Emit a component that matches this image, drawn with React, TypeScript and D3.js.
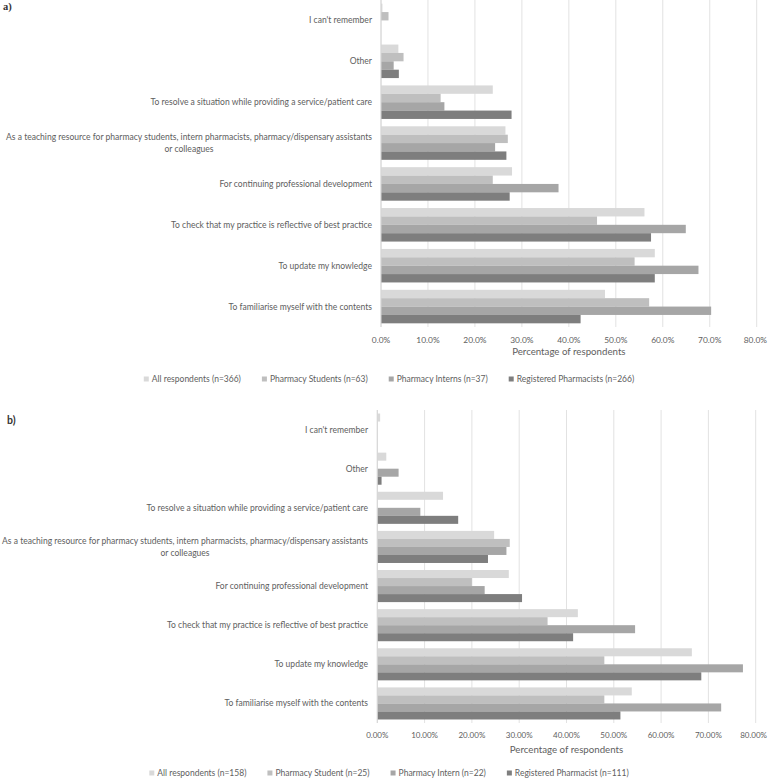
import React, { useEffect, useRef } from "react";
import * as d3 from "d3";

const categories = [
  "I can't remember",
  "Other",
  "To resolve a situation while providing a service/patient care",
  "As a teaching resource for pharmacy students, intern pharmacists, pharmacy/dispensary assistants|or colleagues",
  "For continuing professional development",
  "To check that my practice is reflective of best practice",
  "To update my knowledge",
  "To familiarise myself with the contents",
];

const xTicks = [0, 10, 20, 30, 40, 50, 60, 70, 80];

// Panel a)
const seriesNamesA = [
  "All respondents (n=366)",
  "Pharmacy Students (n=63)",
  "Pharmacy Interns (n=37)",
  "Registered Pharmacists (n=266)",
];
const allA = [0.3, 3.7, 23.8, 26.5, 27.9, 56.1, 58.3, 47.7];
const studentsA = [1.6, 4.8, 12.7, 27.0, 23.8, 46.0, 54.0, 57.1];
const internsA = [0, 2.7, 13.5, 24.3, 37.8, 64.9, 67.6, 70.3];
const registeredA = [0, 3.8, 27.8, 26.7, 27.4, 57.5, 58.3, 42.5];

// Panel b)
const seriesNamesB = [
  "All respondents (n=158)",
  "Pharmacy Student (n=25)",
  "Pharmacy Intern (n=22)",
  "Registered Pharmacist (n=111)",
];
const allB = [0.6, 1.9, 13.9, 24.7, 27.8, 42.4, 66.5, 53.8];
const studentB = [0, 0, 0, 28.0, 20.0, 36.0, 48.0, 48.0];
const internB = [0, 4.5, 9.1, 27.3, 22.7, 54.5, 77.3, 72.7];
const registeredB = [0, 0.9, 17.1, 23.4, 30.6, 41.4, 68.5, 51.4];

const colors = ["#d9d9d9", "#bfbfbf", "#a6a6a6", "#7e7e7e"];
const FONT = "Lato, 'Open Sans', sans-serif";
const TEXT = "#606060";
const LABEL_SIZE = 8.55;

type PanelCfg = {
  letter: string;
  letterY: number;
  letterX: number;
  letterFont: string;
  series: number[][];
  names: string[];
  top: number;
  bottom: number;
  left: number;
  right: number;
  tickY: number;
  tickDigits: number;
  tickSize: number;
  titleY: number;
  legendY: number;
  labelRight: number;
};

function drawPanel(svg: d3.Selection<SVGSVGElement, unknown, null, undefined>, cfg: PanelCfg) {
  const g = svg.append("g");
  const x = d3.scaleLinear().domain([0, 80]).range([cfg.left, cfg.right]);
  const y = d3
    .scaleBand<number>()
    .domain(d3.range(categories.length))
    .range([cfg.top, cfg.bottom])
    .paddingInner(0.18)
    .paddingOuter(0.09);
  const sub = d3
    .scaleBand<number>()
    .domain(d3.range(cfg.series.length))
    .range([0, y.bandwidth()]);

  // gridlines
  g.append("g")
    .selectAll("line")
    .data(xTicks)
    .join("line")
    .attr("x1", (d) => x(d))
    .attr("x2", (d) => x(d))
    .attr("y1", cfg.top)
    .attr("y2", cfg.bottom)
    .attr("stroke", "#e2e2e2")
    .attr("stroke-width", 1);

  // bars
  cfg.series.forEach((vals, si) => {
    g.append("g")
      .selectAll("rect")
      .data(vals)
      .join("rect")
      .attr("x", x(0))
      .attr("y", (_, i) => (y(i) as number) + (sub(si) as number))
      .attr("width", (d) => Math.max(0, x(d) - x(0)))
      .attr("height", sub.bandwidth())
      .attr("fill", colors[si]);
  });

  // y axis line
  g.append("line")
    .attr("x1", x(0))
    .attr("x2", x(0))
    .attr("y1", cfg.top)
    .attr("y2", cfg.bottom)
    .attr("stroke", "#d6d6d6");

  // category labels
  categories.forEach((c, i) => {
    const lines = c.split("|");
    const cy = (y(i) as number) + y.bandwidth() / 2;
    if (lines.length === 1) {
      g.append("text")
        .attr("x", cfg.labelRight)
        .attr("y", cy)
        .attr("dy", "0.35em")
        .attr("text-anchor", "end")
        .attr("font-family", FONT)
        .attr("font-size", LABEL_SIZE)
        .attr("fill", TEXT)
        .text(lines[0]);
    } else {
      const t1 = g
        .append("text")
        .attr("x", cfg.labelRight)
        .attr("y", cy - 5.7)
        .attr("dy", "0.35em")
        .attr("text-anchor", "end")
        .attr("font-family", FONT)
        .attr("font-size", LABEL_SIZE)
        .attr("fill", TEXT)
        .text(lines[0]);
      const w = (t1.node() as SVGTextElement).getComputedTextLength();
      g.append("text")
        .attr("x", cfg.labelRight - w / 2)
        .attr("y", cy + 5.7)
        .attr("dy", "0.35em")
        .attr("text-anchor", "middle")
        .attr("font-family", FONT)
        .attr("font-size", LABEL_SIZE)
        .attr("fill", TEXT)
        .text(lines[1]);
    }
  });

  // x tick labels
  const ticks = g
    .append("g")
    .selectAll("text")
    .data(xTicks)
    .join("text")
    .attr("x", (d) => x(d))
    .attr("y", cfg.tickY)
    .attr("dy", "0.35em")
    .attr("text-anchor", "middle")
    .attr("font-family", FONT)
    .attr("font-size", cfg.tickSize)
    .attr("fill", TEXT)
    .text((d) => d.toFixed(cfg.tickDigits) + "%");
  ticks.each(function (d) {
    const el = this as SVGTextElement;
    const w = el.getComputedTextLength();
    const cxp = Math.min(x(d), 767 - w / 2);
    d3.select(el).attr("x", cxp);
  });

  // axis title
  g.append("text")
    .attr("x", (cfg.left + cfg.right) / 2)
    .attr("y", cfg.titleY)
    .attr("dy", "0.35em")
    .attr("text-anchor", "middle")
    .attr("font-family", FONT)
    .attr("font-size", 9.7)
    .attr("fill", TEXT)
    .text("Percentage of respondents");

  // panel letter
  g.append("text")
    .attr("x", cfg.letterX)
    .attr("y", cfg.letterY)
    .attr("dy", "0.35em")
    .attr("font-family", cfg.letterFont)
    .attr("font-weight", "bold")
    .attr("font-size", 10.5)
    .attr("fill", "#333")
    .text(cfg.letter);

  // legend
  const lg = g.append("g");
  const items: { w: number; node: d3.Selection<SVGGElement, unknown, null, undefined> }[] = [];
  cfg.names.forEach((n, i) => {
    const it = lg.append("g");
    it.append("rect")
      .attr("x", 0)
      .attr("y", -2.5)
      .attr("width", 5)
      .attr("height", 5)
      .attr("fill", colors[i]);
    const t = it
      .append("text")
      .attr("x", 8)
      .attr("y", 0)
      .attr("dy", "0.35em")
      .attr("font-family", FONT)
      .attr("font-size", 8.5)
      .attr("fill", TEXT)
      .text(n);
    const w = 8 + (t.node() as SVGTextElement).getComputedTextLength();
    items.push({ w, node: it });
  });
  const gap = 21;
  const total = d3.sum(items, (d) => d.w) + gap * (items.length - 1);
  let cx = 389 - total / 2;
  items.forEach((it) => {
    it.node.attr("transform", `translate(${cx},${cfg.legendY})`);
    cx += it.w + gap;
  });
}

export default function App() {
  const ref = useRef<SVGSVGElement>(null);
  useEffect(() => {
    const svg = d3.select(ref.current as SVGSVGElement);
    svg.selectAll("*").remove();
    svg.append("rect").attr("width", 768).attr("height", 781).attr("fill", "#fff");
    drawPanel(svg, {
      letter: "a)",
      letterX: 3,
      letterY: 6,
      letterFont: "'Liberation Serif', serif",
      series: [allA, studentsA, internsA, registeredA],
      names: seriesNamesA,
      top: 0,
      bottom: 327,
      left: 381,
      right: 756.7,
      tickY: 340,
      tickDigits: 1,
      tickSize: 8.4,
      titleY: 352,
      legendY: 379,
      labelRight: 372,
    });
    drawPanel(svg, {
      letter: "b)",
      letterX: 7,
      letterY: 420,
      letterFont: "Lato, sans-serif",
      series: [allB, studentB, internB, registeredB],
      names: seriesNamesB,
      top: 410,
      bottom: 723,
      left: 377.3,
      right: 755.7,
      tickY: 735,
      tickDigits: 2,
      tickSize: 8,
      titleY: 750,
      legendY: 773,
      labelRight: 368,
    });
  }, []);
  return (
    <svg
      ref={ref}
      width={768}
      height={781}
      style={{ position: "absolute", left: 0, top: 0 }}
    />
  );
}
